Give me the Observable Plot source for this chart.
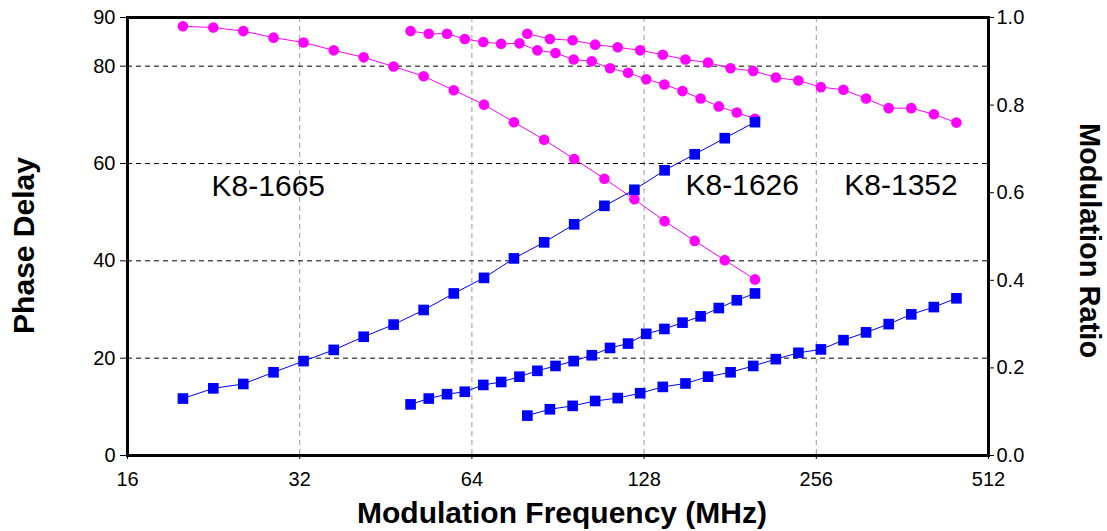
<!DOCTYPE html>
<html>
<head>
<meta charset="utf-8">
<script src="https://cdn.jsdelivr.net/npm/d3@7"></script>
<script src="https://cdn.jsdelivr.net/npm/@observablehq/plot@0.6"></script>
<style>
  html, body { margin: 0; padding: 0; background: #fff; }
  #chart svg { display: block; }
</style>
</head>
<body>
<div id="chart"></div>
<script>
// ---- Data ----
const samples = ["K8-1665", "K8-1626", "K8-1352"];

const freq1665 = [20, 22.6, 25.5, 28.8, 32.5, 36.7, 41.4, 46.7, 52.7, 59.5, 67.2, 75.8, 85.6, 96.6, 109.1, 123.1, 139.0, 156.9, 177.1, 200];
const phase1665 = [11.7, 13.8, 14.7, 17.1, 19.4, 21.7, 24.4, 26.9, 29.9, 33.3, 36.5, 40.5, 43.8, 47.5, 51.3, 54.6, 58.6, 61.9, 65.2, 68.5];
const ratio1665 = [0.980, 0.977, 0.969, 0.954, 0.943, 0.925, 0.909, 0.888, 0.866, 0.834, 0.801, 0.761, 0.721, 0.677, 0.632, 0.585, 0.535, 0.490, 0.446, 0.402];

const freq1626 = [50, 53.8, 57.9, 62.2, 67.0, 72.0, 77.5, 83.3, 89.6, 96.4, 103.7, 111.6, 120.0, 129.1, 138.9, 149.4, 160.7, 172.9, 185.9, 200];
const phase1626 = [10.5, 11.7, 12.6, 13.1, 14.5, 15.1, 16.2, 17.4, 18.4, 19.4, 20.6, 22.1, 23.0, 25.0, 26.0, 27.3, 28.6, 30.3, 31.9, 33.3];
const ratio1626 = [0.969, 0.963, 0.963, 0.951, 0.944, 0.940, 0.941, 0.925, 0.919, 0.904, 0.900, 0.884, 0.874, 0.859, 0.847, 0.832, 0.815, 0.797, 0.783, 0.769];

const freq1352 = [80, 87.6, 96.0, 105.1, 115.1, 126.0, 138.0, 151.2, 165.6, 181.3, 198.6, 217.5, 238.2, 260.8, 285.6, 312.8, 342.6, 375.2, 410.9, 450];
const phase1352 = [8.2, 9.5, 10.2, 11.2, 11.8, 12.8, 14.1, 14.8, 16.2, 17.1, 18.4, 19.8, 21.1, 21.8, 23.7, 25.3, 27.0, 29.0, 30.5, 32.3];
const ratio1352 = [0.963, 0.951, 0.948, 0.938, 0.932, 0.925, 0.915, 0.904, 0.897, 0.884, 0.878, 0.863, 0.856, 0.841, 0.835, 0.815, 0.793, 0.793, 0.779, 0.760];

const xTicks = [16, 32, 64, 128, 256, 512];
const phaseTicks = [0, 20, 40, 60, 80, 90];
const ratioTicks = [0, 0.2, 0.4, 0.6, 0.8, 1.0];
const xGrid = [32, 64, 128, 256];
const yGrid = [20, 40, 60, 80];

const labelText = ["K8-1665", "K8-1626", "K8-1352"];
const labelFreq = [28.2, 190, 360];
const labelPhase = [55.3, 55.5, 55.5];

// ---- Build table ----
const PHASE_MAX = 90; // left axis maximum; right axis (ratio) 0..1 maps onto the same height
const series = [
  [samples[0], freq1665, phase1665, ratio1665],
  [samples[1], freq1626, phase1626, ratio1626],
  [samples[2], freq1352, phase1352, ratio1352]
];
const rows = [];
for (const [name, f, p, r] of series) {
  f.forEach((fv, i) => rows.push({sample: name, freq: fv, phase: p[i], ratioY: r[i] * PHASE_MAX}));
}
const labels = labelText.map((t, i) => ({text: t, freq: labelFreq[i], phase: labelPhase[i]}));

const font = "Arial, 'Liberation Sans', sans-serif";

const chart = Plot.plot({
  width: 1107,
  height: 531,
  marginLeft: 127,
  marginRight: 119,
  marginTop: 17,
  marginBottom: 76,
  style: {fontFamily: font, background: "#fff", color: "#000", overflow: "visible"},
  x: {type: "log", base: 2, domain: [16, 512], axis: null},
  y: {domain: [0, PHASE_MAX], axis: null},
  marks: [
    Plot.ruleX(xGrid, {stroke: "#999", strokeWidth: 1, strokeDasharray: "5,4"}),
    Plot.ruleY(yGrid, {stroke: "#000", strokeWidth: 1, strokeDasharray: "5,4"}),
    // Modulation ratio (right axis)
    Plot.line(rows, {x: "freq", y: "ratioY", z: "sample", stroke: "#ff00ff", strokeWidth: 1}),
    Plot.dot(rows, {x: "freq", y: "ratioY", fill: "#ff00ff", r: 5.3}),
    // Phase delay (left axis)
    Plot.line(rows, {x: "freq", y: "phase", z: "sample", stroke: "#0000ff", strokeWidth: 1}),
    Plot.dot(rows, {x: "freq", y: "phase", fill: "#0000ff", symbol: "square", r: 6}),
    // sample labels
    Plot.text(labels, {x: "freq", y: "phase", text: "text", fontSize: 30, fill: "#000", lineAnchor: "middle"}),
    // axes
    Plot.axisX({ticks: xTicks, tickFormat: d => String(d), tickSize: 4, tickPadding: 12, fontSize: 20, label: null}),
    Plot.axisY({anchor: "left", ticks: phaseTicks, tickSize: 7, tickPadding: 5, fontSize: 20, label: null}),
    Plot.axisY({anchor: "right", ticks: ratioTicks.map(t => t * PHASE_MAX), tickFormat: d => (d / PHASE_MAX).toFixed(1), tickSize: 5, tickPadding: 3, fontSize: 20, label: null}),
    Plot.frame({stroke: "#000", strokeWidth: 3}),
    // axis titles
    Plot.text(["Modulation Frequency (MHz)"], {frameAnchor: "bottom", textAnchor: "middle", dx: 4, dy: 58, lineAnchor: "middle", fontSize: 30, fontWeight: "bold", fill: "#000"}),
    Plot.text(["Phase Delay"], {frameAnchor: "left", textAnchor: "middle", dx: -103, dy: 9, rotate: -90, lineAnchor: "middle", fontSize: 30, fontWeight: "bold", fill: "#000"}),
    Plot.text(["Modulation Ratio"], {frameAnchor: "right", textAnchor: "middle", dx: 101, dy: 4, rotate: 90, lineAnchor: "middle", fontSize: 29, fontWeight: "bold", fill: "#000"})
  ]
});
document.getElementById("chart").appendChild(chart);
</script>
</body>
</html>
